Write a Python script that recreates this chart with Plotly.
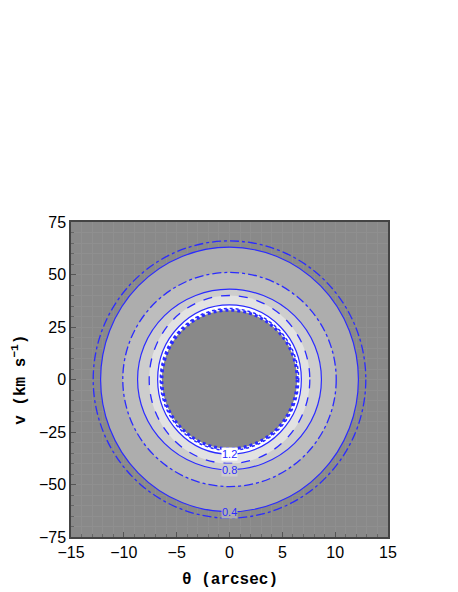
import plotly.graph_objects as go

# ---- data ----
levels = [0.4, 0.8, 1.2]                 # contour levels (solid lines)
solid_theta = [12.2, 8.7, 6.8]           # semi-axis in arcsec
solid_v = [63.0, 43.0, 35.5]             # semi-axis in km/s
broken_theta = [12.9, 10.1, 7.6]         # second set (dash-dot / dashed)
broken_v = [66.0, 51.0, 40.0]
inner_theta = 6.4                        # inner (noisy) boundary
inner_v = 33.0

x_ticks = [-15, -10, -5, 0, 5, 10, 15]
y_ticks = [-75, -50, -25, 0, 25, 50, 75]

BLUE = "#2b2bff"
BG = "#898989"

fig = go.Figure()
fig.add_trace(go.Scatter(x=[-15, 15], y=[-75, 75], mode="markers",
                         marker=dict(opacity=0), hoverinfo="skip", showlegend=False))

shapes = []
def ell(a, b, **kw):
    d = dict(type="circle", xref="x", yref="y", x0=-a, x1=a, y0=-b, y1=b)
    d.update(kw)
    return d

# filled bands (from outside in)
band_bounds = [(solid_theta[0], solid_v[0]), (broken_theta[1], broken_v[1]),
               (solid_theta[1], solid_v[1]), (broken_theta[2], broken_v[2]),
               (solid_theta[2], solid_v[2]), (inner_theta, inner_v)]
band_colors = ["#adadad", "#bdbdbd", "#cdcdcd", "#e2e2e2", "#ffffff", BG]
for (a, b), c in zip(band_bounds, band_colors):
    shapes.append(ell(a, b, fillcolor=c, line=dict(width=0), layer="between"))

# contour lines
dashes = ["dashdot", "dashdot", "dash"]
for a, b, dsh in zip(broken_theta, broken_v, dashes):
    shapes.append(ell(a, b, line=dict(color=BLUE, width=1.3, dash=dsh), layer="above"))
for a, b in zip(solid_theta, solid_v):
    shapes.append(ell(a, b, line=dict(color=BLUE, width=1.2), layer="above"))
shapes.append(ell(inner_theta, inner_v, line=dict(color=BLUE, width=3, dash="dot"), layer="above"))
shapes.append(ell(inner_theta + 0.15, inner_v + 0.8, line=dict(color=BLUE, width=1.5, dash="dot"), layer="above"))

label_bg = ["#adadad", "#cdcdcd", "#ffffff"]
annotations = []
for lev, b, bgc in zip(levels, solid_v, label_bg):
    annotations.append(dict(x=0, y=-b, xref="x", yref="y", text=f"{lev:.1f}",
                            showarrow=False, font=dict(family="Liberation Sans, Arial", size=11, color=BLUE),
                            bgcolor=bgc, borderpad=0))

title_font = dict(family="Liberation Mono, Courier New", size=16, color="black")
annotations.append(dict(x=0.5, y=-0.137, xref="paper", yref="paper", text="<b>\u03b8 (arcsec)</b>",
                        showarrow=False, font=title_font, xanchor="center", yanchor="middle"))
annotations.append(dict(x=-0.163, y=0.5, xref="paper", yref="paper", text="<b>v (km s<sup>\u22121</sup>)</b>",
                        showarrow=False, font=title_font, textangle=-90, xanchor="center", yanchor="middle"))

fig.update_layout(
    width=458, height=592,
    margin=dict(l=63, r=78, t=214, b=63),
    paper_bgcolor="white", plot_bgcolor=BG,
    shapes=shapes, annotations=annotations,
    showlegend=False,
)
axis_common = dict(
    automargin=False,
    showline=True, linecolor="#444444", linewidth=1.5, mirror=True,
    ticks="inside", ticklen=5, tickcolor="#555555",
    minor=dict(ticks="inside", ticklen=3, tickcolor="#666666", showgrid=True, gridcolor="#8f8f8f", gridwidth=1),
    showgrid=True, gridcolor="#8f8f8f", gridwidth=1,
    zeroline=False,
    tickfont=dict(family="Liberation Sans, Arial", size=16, color="black"),
)
fig.update_xaxes(range=[-15, 15], tickvals=x_ticks,
                 ticktext=[str(v).replace("-", "\u2212") for v in x_ticks],
                 **axis_common)
fig.update_yaxes(range=[-75, 75], tickvals=y_ticks,
                 ticktext=[str(v).replace("-", "\u2212") for v in y_ticks],
                 **axis_common)
fig.update_xaxes(minor=dict(dtick=1))
fig.update_yaxes(minor=dict(dtick=5))

fig.write_html("out.html")
